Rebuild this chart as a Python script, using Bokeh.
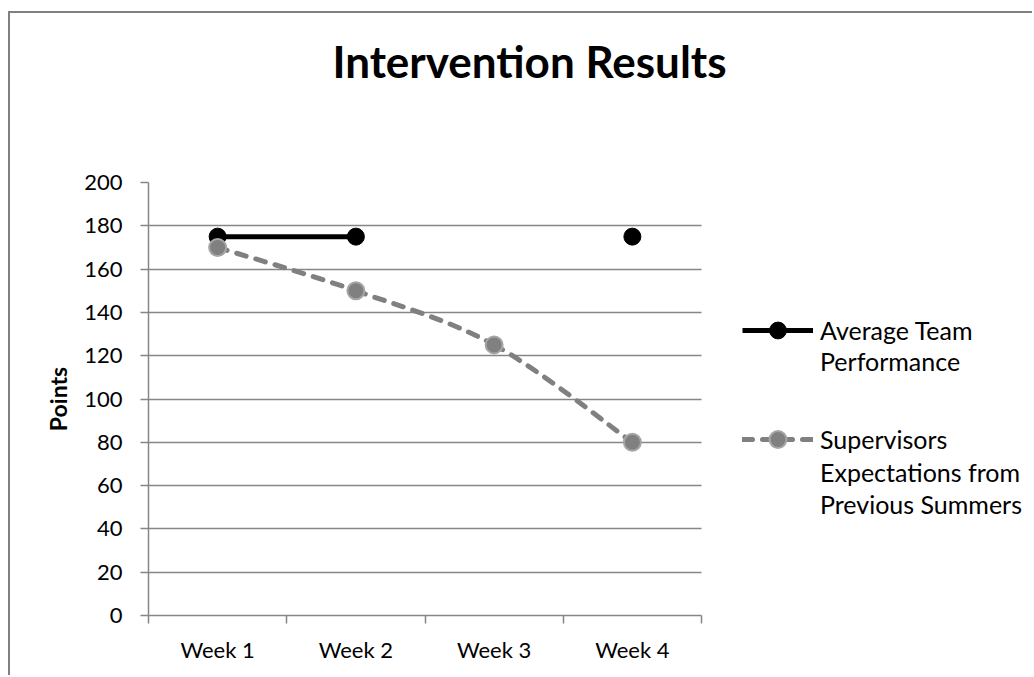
from bokeh.plotting import figure
from bokeh.models import (Range1d, LinearAxis, FixedTicker,
                          Legend, LegendItem, ColumnDataSource, Grid)
from bokeh.embed import file_html
from bokeh.resources import INLINE

# ---- data ----
weeks = ["Week 1", "Week 2", "Week 3", "Week 4"]
team_performance = [175, 175, float("nan"), 175]
supervisor_expectations = [170, 150, 125, 80]
y_ticks = [0, 20, 40, 60, 80, 100, 120, 140, 160, 180, 200]
team_label_lines = ["Average Team", "Performance"]
expect_label_lines = ["Supervisors", "Expectations from", "Previous Summers"]
title_text = "Intervention Results"
y_label = "Points"

FONT = "Lato"
GRID = "#868686"

# layout: plot area of the categories is 553 px wide, the frame continues under the legend
W, H = 1024, 664
LEFT, TOP, RIGHT, BOTTOM = 138, 169, 4, 62
CHART_W = 553
TITLE_CENTER = 381          # px from the left edge of the plot area
TITLE_BASELINE_GAP = 96     # px between the title and the top of the plot area
frame_w = W - LEFT - RIGHT
n = len(weeks)
unit_px = CHART_W / n
x_end = frame_w / unit_px

p = figure(width=W, height=H,
           x_range=Range1d(0, x_end), y_range=Range1d(0, 200),
           x_axis_type=None, y_axis_type=None,
           output_backend="svg", toolbar_location=None,
           min_border_left=LEFT, min_border_top=TOP, min_border_right=RIGHT, min_border_bottom=BOTTOM,
           margin=(11, 0, 0, 8),
           styles={"border-left": "2px solid #808080", "border-top": "2px solid #808080"})
p.outline_line_color = None
p.background_fill_color = "white"
p.border_fill_color = "white"

# chart title, placed above the plot area over the middle of the whole chart
title_x = TITLE_CENTER / unit_px
title_axis = LinearAxis(ticker=FixedTicker(ticks=[title_x]),
                        major_label_overrides={title_x: title_text},
                        axis_line_color=None, major_tick_line_color=None,
                        minor_tick_line_color=None, major_tick_out=0, major_tick_in=0,
                        major_label_standoff=TITLE_BASELINE_GAP,
                        major_label_text_font=FONT, major_label_text_font_size="44px",
                        major_label_text_font_style="bold", major_label_text_color="black")
p.add_layout(title_axis, "above")

# y axis + grid (grid limited to the category area)
yaxis = LinearAxis(ticker=FixedTicker(ticks=y_ticks), axis_label=y_label,
                   axis_line_color=GRID, axis_line_width=1.5,
                   major_tick_line_color=GRID, major_tick_line_width=1.5,
                   major_tick_out=8, major_tick_in=0, minor_tick_line_color=None,
                   major_label_standoff=18, major_label_text_font=FONT,
                   major_label_text_font_size="22px", major_label_text_color="black",
                   axis_label_text_font=FONT, axis_label_text_font_style="bold",
                   axis_label_text_font_size="23px", axis_label_text_color="black",
                   axis_label_standoff=9)
p.add_layout(yaxis, "left")
p.add_layout(Grid(dimension=1, ticker=yaxis.ticker, grid_line_color=GRID,
                  grid_line_width=1.5, cross_bounds=(0, n)), "center")

# x axis: labels at category centres, tick marks at category boundaries
centres = [i + 0.5 for i in range(n)]
edges = list(range(n + 1))
xaxis = LinearAxis(ticker=FixedTicker(ticks=centres, minor_ticks=edges), bounds=(0, n),
                   major_label_overrides={c: w for c, w in zip(centres, weeks)},
                   axis_line_color=GRID, axis_line_width=1.5,
                   major_tick_line_color=None, major_tick_out=0, major_tick_in=0,
                   minor_tick_line_color=GRID, minor_tick_line_width=1.5,
                   minor_tick_out=8, minor_tick_in=0,
                   major_label_standoff=12, major_label_text_font=FONT,
                   major_label_text_font_size="22px", major_label_text_color="black")
p.add_layout(xaxis, "below")

# series
src = ColumnDataSource(dict(x=centres, team=team_performance, expect=supervisor_expectations))
team_line = p.line("x", "team", source=src, line_color="black", line_width=5)
team_dots = p.scatter("x", "team", source=src, size=17, fill_color="black", line_color="black")

# smoothed curve through the expectation values (Catmull-Rom -> Bezier)
pts = list(zip(centres, supervisor_expectations))
ext = [pts[0]] + pts + [pts[-1]]
bx0, by0, bx1, by1, bcx0, bcy0, bcx1, bcy1 = ([] for _ in range(8))
for i in range(len(pts) - 1):
    q0, q1, q2, q3 = ext[i], ext[i + 1], ext[i + 2], ext[i + 3]
    bx0.append(q1[0]); by0.append(q1[1])
    bx1.append(q2[0]); by1.append(q2[1])
    bcx0.append(q1[0] + (q2[0] - q0[0]) / 6); bcy0.append(q1[1] + (q2[1] - q0[1]) / 6)
    bcx1.append(q2[0] - (q3[0] - q1[0]) / 6); bcy1.append(q2[1] - (q3[1] - q1[1]) / 6)
curve = p.bezier(x0=bx0, y0=by0, x1=bx1, y1=by1, cx0=bcx0, cy0=bcy0, cx1=bcx1, cy1=bcy1,
                 line_color="#808080", line_width=5, line_dash="10 10", line_cap="round")
exp_dots = p.scatter("x", "expect", source=src, size=17, fill_color="#808080",
                     line_color="#a6a6a6", line_width=2)

# legend: glyph + first line of each entry, further lines of each entry below it
LEG_X = 594
common = dict(orientation="vertical", border_line_color=None, background_fill_alpha=0,
              padding=0, margin=0, glyph_width=71, label_standoff=7,
              label_text_font=FONT, label_text_font_size="25px", label_text_color="black")
legend_main = Legend(items=[LegendItem(label=team_label_lines[0], renderers=[team_line, team_dots]),
                            LegendItem(label=expect_label_lines[0], renderers=[curve, exp_dots])],
                     location=(LEG_X, 155), spacing=67, glyph_height=42, **common)
legend_team_rest = Legend(items=[LegendItem(label=t, renderers=[]) for t in team_label_lines[1:]],
                          location=(LEG_X, 239), spacing=2, glyph_height=30, **common)
legend_expect_rest = Legend(items=[LegendItem(label=t, renderers=[]) for t in expect_label_lines[1:]],
                            location=(LEG_X, 96), spacing=2, glyph_height=30, **common)
for lg in (legend_main, legend_team_rest, legend_expect_rest):
    p.add_layout(lg, "center")

open("out.html", "w").write(file_html(p, INLINE))
